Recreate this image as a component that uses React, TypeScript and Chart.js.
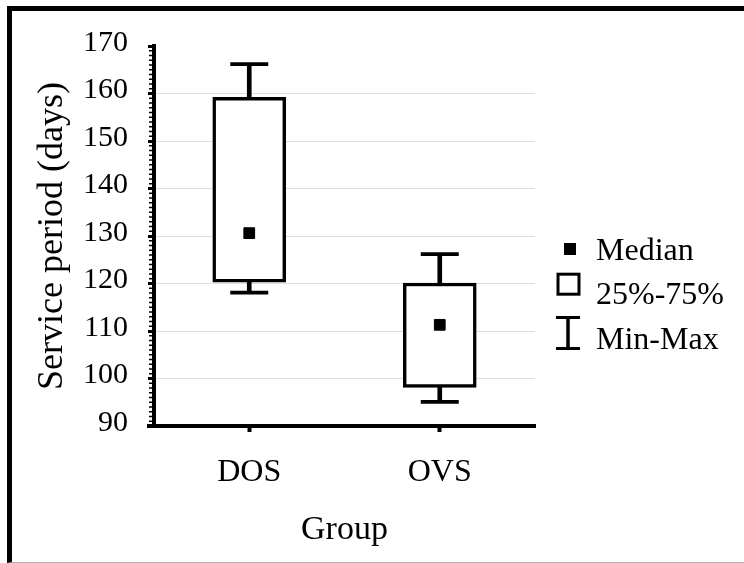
import React, { useEffect, useRef } from 'react';
import { Chart, registerables } from 'chart.js';

Chart.register(...registerables);

// ---- data ----
const categories = ['DOS', 'OVS'];
const minValues = [118.1, 95.1];
const q1Values = [120.3, 98.1];
const medianValues = [130.6, 111.3];
const q3Values = [159.2, 120.1];
const maxValues = [166.2, 126.2];
const yMin = 90;
const yMax = 170;
const yStep = 10;
const yMinorStep = 1;
const legendLabels = ['Median', '25%-75%', 'Min-Max'];
const xTitle = 'Group';
const yTitle = 'Service period (days)';

const FONT = '"Liberation Serif", "Times New Roman", serif';

const extrasPlugin = {
  id: 'extras',
  afterDraw(chart: any) {
    const { ctx, chartArea } = chart;
    const ys = chart.scales.y;
    ctx.save();
    // minor ticks on the y axis
    ctx.strokeStyle = '#000';
    ctx.lineWidth = 1.3;
    ctx.beginPath();
    const axisLeft = chartArea.left - 2;
    for (let v = yMin; v <= yMax; v += yMinorStep) {
      if (v % yStep === 0) continue;
      const py = ys.getPixelForValue(v);
      ctx.moveTo(axisLeft, py);
      ctx.lineTo(axisLeft - 3, py);
    }
    ctx.stroke();
    // x axis small extension to the left of y axis
    ctx.fillStyle = '#000';
    const by = ys.getPixelForValue(yMin);
    ctx.fillRect(chartArea.left - 7, by - 2, 7, 4);

    // legend
    const lx = 556;
    // median marker
    ctx.fillRect(lx + 8, 243, 12, 12);
    // box marker
    ctx.lineWidth = 3;
    ctx.strokeRect(lx + 2, 274.2, 21, 20);
    // whisker marker
    ctx.beginPath();
    ctx.moveTo(lx, 317.5);
    ctx.lineTo(lx + 24, 317.5);
    ctx.moveTo(lx, 348.5);
    ctx.lineTo(lx + 24, 348.5);
    ctx.stroke();
    ctx.lineWidth = 3.5;
    ctx.beginPath();
    ctx.moveTo(lx + 12, 317.5);
    ctx.lineTo(lx + 12, 348.5);
    ctx.stroke();
    // legend text
    ctx.font = '32px ' + FONT;
    ctx.textBaseline = 'alphabetic';
    ctx.textAlign = 'left';
    ctx.fillStyle = '#000';
    const baselines = [260, 304, 349];
    legendLabels.forEach((t, i) => ctx.fillText(t, 596, baselines[i]));
    ctx.restore();
  },
};

export default function App() {
  const canvasRef = useRef<HTMLCanvasElement | null>(null);

  useEffect(() => {
    if (!canvasRef.current) return;
    const chart = new Chart(canvasRef.current, {
      type: 'bar',
      data: {
        labels: categories,
        datasets: [
          {
            type: 'bar',
            label: 'Min-Max',
            data: categories.map((_, i) => [minValues[i], maxValues[i]]) as any,
            backgroundColor: '#000',
            borderWidth: 0,
            barThickness: 4,
            grouped: false,
            order: 3,
          } as any,
          {
            type: 'bar',
            label: '25%-75%',
            data: categories.map((_, i) => [q1Values[i], q3Values[i]]) as any,
            backgroundColor: '#fff',
            borderColor: '#000',
            borderWidth: 3.5,
            borderSkipped: false,
            barThickness: 73,
            grouped: false,
            order: 2,
          } as any,
          {
            type: 'line',
            label: 'Max',
            data: maxValues,
            showLine: false,
            pointStyle: 'line',
            pointRadius: 19,
            pointBorderWidth: 3.7,
            borderColor: '#000',
            backgroundColor: '#000',
            order: 1,
          } as any,
          {
            type: 'line',
            label: 'Min',
            data: minValues,
            showLine: false,
            pointStyle: 'line',
            pointRadius: 19,
            pointBorderWidth: 3.7,
            borderColor: '#000',
            backgroundColor: '#000',
            order: 1,
          } as any,
          {
            type: 'line',
            label: 'Median',
            data: medianValues,
            showLine: false,
            pointStyle: 'rect',
            pointRadius: 7.6,
            pointBorderWidth: 1,
            borderColor: '#000',
            backgroundColor: '#000',
            order: 0,
          } as any,
        ],
      },
      options: {
        animation: false,
        responsive: false,
        devicePixelRatio: 1,
        events: [],
        layout: { padding: { left: 0, right: 209, top: 46, bottom: 0 } },
        plugins: {
          legend: { display: false },
          tooltip: { enabled: false },
        },
        scales: {
          x: {
            type: 'category',
            offset: true,
            afterFit: (s: any) => {
              s.height = 137;
            },
            grid: {
              offset: false,
              drawOnChartArea: false,
              drawTicks: true,
              tickLength: 6,
              tickWidth: 4,
              tickColor: '#000',
              color: '#000',
            },
            border: { display: true, color: '#000', width: 4 },
            ticks: {
              color: '#000',
              font: { family: FONT, size: 32 },
              padding: 21,
              maxRotation: 0,
            },
            title: {
              display: true,
              text: xTitle,
              color: '#000',
              font: { family: FONT, size: 34 },
              padding: { top: 0, bottom: 13 },
            },
          },
          y: {
            type: 'linear',
            min: yMin,
            max: yMax,
            afterFit: (s: any) => {
              s.width = 154;
            },
            grid: {
              color: (c: any) =>
                c.tick && (c.tick.value === yMin || c.tick.value === yMax) ? 'rgba(0,0,0,0)' : '#dedede',
              lineWidth: 1,
              drawTicks: true,
              tickLength: 6,
              tickWidth: 3,
              tickColor: '#000',
            },
            border: { display: true, color: '#000', width: 4 },
            ticks: {
              stepSize: yStep,
              autoSkip: false,
              color: '#000',
              font: { family: FONT, size: 30 },
              padding: 20,
              labelOffset: -3,
            },
            title: {
              display: true,
              text: yTitle,
              color: '#000',
              font: { family: FONT, size: 36 },
              padding: { top: 31, bottom: 0 },
            },
          },
        },
      },
      plugins: [extrasPlugin],
    });
    return () => chart.destroy();
  }, []);

  return (
    <div style={{ position: 'fixed', left: 0, top: 0, width: 744, height: 563, background: '#fff' }}>
      <canvas ref={canvasRef} width={744} height={563} style={{ display: 'block' }} />
      <div
        style={{
          position: 'absolute',
          left: 7,
          top: 6,
          width: 744 - 7,
          height: 563 - 6,
          boxSizing: 'border-box',
          borderTop: '5px solid #000',
          borderLeft: '5px solid #000',
          borderBottom: '1px solid #b0b0b0',
          pointerEvents: 'none',
        }}
      />
    </div>
  );
}
